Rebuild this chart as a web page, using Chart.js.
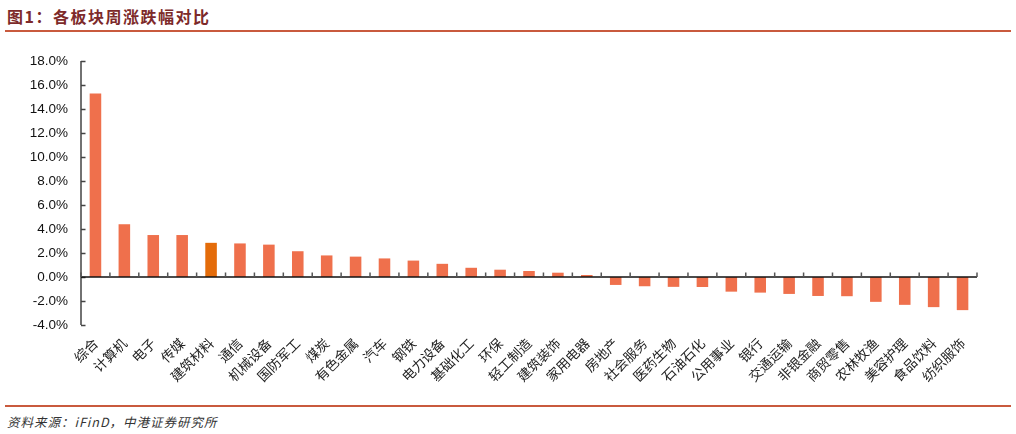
<!DOCTYPE html>
<html>
<head>
<meta charset="utf-8">
<script src="https://cdn.jsdelivr.net/npm/chart.js@4.4.1/dist/chart.umd.min.js"></script>
<style>
  html, body { margin: 0; padding: 0; background: #fff; }
  body { width: 1016px; height: 434px; position: relative; overflow: hidden; }
  #title { position: absolute; left: 7px; top: 4px; font-family: "Noto Sans CJK SC", sans-serif; font-weight: bold; font-size: 16px; letter-spacing: 1.5px; color: #7d2a2a; white-space: nowrap; }
  .rule { position: absolute; left: 5px; width: 1006px; height: 1.5px; background: #c95a3e; }
  #wrap { position: absolute; left: 0; top: 40px; width: 1016px; height: 365px; }
  #source { position: absolute; left: 7px; top: 412px; font-family: "Noto Sans CJK SC", sans-serif; font-size: 12.5px; font-style: italic; letter-spacing: 1px; color: #333; white-space: nowrap; }
</style>
</head>
<body>
<div id="title">图1：各板块周涨跌幅对比</div>
<div class="rule" style="top:30px"></div>
<div id="wrap"><canvas id="c"></canvas></div>
<div class="rule" style="top:405px"></div>
<div id="source">资料来源：iFinD，中港证券研究所</div>
<script>
const categories = ['综合','计算机','电子','传媒','建筑材料','通信','机械设备','国防军工','煤炭','有色金属','汽车','钢铁','电力设备','基础化工','环保','轻工制造','建筑装饰','家用电器','房地产','社会服务','医药生物','石油石化','公用事业','银行','交通运输','非银金融','商贸零售','农林牧渔','美容护理','食品饮料','纺织服饰'];
const weeklyChange = [15.3, 4.4, 3.5, 3.5, 2.85, 2.8, 2.7, 2.15, 1.8, 1.7, 1.55, 1.37, 1.1, 0.77, 0.61, 0.5, 0.36, 0.17, -0.66, -0.77, -0.82, -0.83, -1.22, -1.3, -1.41, -1.58, -1.6, -2.07, -2.32, -2.51, -2.76];
const highlightCategory = '建筑材料';
const yTicks = [-4, -2, 0, 2, 4, 6, 8, 10, 12, 14, 16, 18];

const barColor = '#ef704c';
const highlightColor = '#e46c0a';

const axisPlugin = {
  id: 'customAxes',
  afterDatasetsDraw(chart) {
    const { ctx, chartArea, scales: { x, y } } = chart;
    ctx.save();
    ctx.strokeStyle = '#444';
    ctx.lineWidth = 1.5;
    const yTop = y.getPixelForValue(yTicks[yTicks.length - 1]);
    const yBot = y.getPixelForValue(yTicks[0]);
    ctx.beginPath();
    ctx.moveTo(chartArea.left, yTop);
    ctx.lineTo(chartArea.left, yBot);
    yTicks.forEach(v => {
      const py = Math.round(y.getPixelForValue(v)) + 0.5;
      ctx.moveTo(chartArea.left, py);
      ctx.lineTo(chartArea.left + 4.5, py);
    });
    ctx.stroke();
    const y0 = y.getPixelForValue(0);
    ctx.strokeStyle = '#111';
    ctx.lineWidth = 1.5;
    ctx.beginPath();
    ctx.moveTo(chartArea.left, y0);
    ctx.lineTo(chartArea.right, y0);
    ctx.stroke();
    ctx.strokeStyle = '#555';
    ctx.lineWidth = 1.5;
    ctx.beginPath();
    for (let i = 0; i <= categories.length; i++) {
      const px = x.getPixelForValue(i - 0.5);
      ctx.moveTo(px, y0);
      ctx.lineTo(px, y0 - 4.5);
    }
    ctx.stroke();
    ctx.restore();
  }
};

new Chart(document.getElementById('c'), {
  type: 'bar',
  data: {
    labels: categories,
    datasets: [{
      data: weeklyChange,
      backgroundColor: categories.map(c => c === highlightCategory ? highlightColor : barColor),
      borderWidth: 0,
      barPercentage: 0.4,
      categoryPercentage: 1.0
    }]
  },
  options: {
    responsive: true,
    maintainAspectRatio: false,
    animation: false,
    layout: { padding: { top: 19, right: 39, bottom: 0, left: 0 } },
    plugins: { legend: { display: false }, tooltip: { enabled: false } },
    scales: {
      x: {
        grid: { display: false, drawTicks: false },
        border: { display: false },
        ticks: {
          autoSkip: false,
          maxRotation: 45,
          minRotation: 45,
          padding: 10,
          color: '#222',
          font: { family: '"Noto Sans CJK SC", sans-serif', size: 13.5 }
        },
        afterFit(s) { s.height = 80; }
      },
      y: {
        min: -4,
        max: 18,
        grid: { display: false, drawTicks: false },
        border: { display: false },
        afterBuildTicks(s) { s.ticks = yTicks.map(v => ({ value: v })); },
        ticks: {
          padding: 13,
          color: '#111',
          font: { family: '"Liberation Sans", Arial, sans-serif', size: 13.5 },
          callback: v => v.toFixed(1) + '%'
        },
        afterFit(s) { s.width = 81; }
      }
    }
  },
  plugins: [axisPlugin]
});
</script>
</body>
</html>
